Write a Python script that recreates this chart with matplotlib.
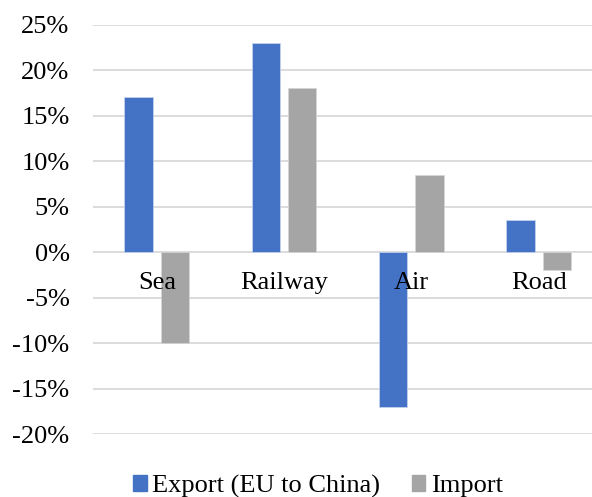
import numpy as np
import matplotlib
matplotlib.use("Agg")
import matplotlib.pyplot as plt
from matplotlib.patches import Patch

# Data
categories = ["Sea", "Railway", "Air", "Road"]
export_vals = [17, 23, -17, 3.5]
import_vals = [-10, 18, 8.5, -2]
series_names = ["Export (EU to China)", "Import"]
yticks = [-20, -15, -10, -5, 0, 5, 10, 15, 20, 25]

blue = "#4472C4"
gray = "#A5A5A5"

plt.rcParams["font.family"] = ["Liberation Serif", "DejaVu Serif"]
plt.rcParams["font.size"] = 19

fig = plt.figure(figsize=(5.92, 4.97), dpi=100)
ax = fig.add_axes([0.1574, 0.1262, 0.860, 0.8245])

x = np.arange(len(categories))
w = 0.223
off = 0.143
ax.bar(x - off, export_vals, w, color=blue, edgecolor="#c9d6ef", linewidth=0.5, zorder=2)
ax.bar(x + off, import_vals, w, color=gray, edgecolor="#d6d6d6", linewidth=0.5, zorder=2)

ax.set_xlim(-0.5, len(categories) - 0.5)
ax.set_ylim(-20, 25)
ax.set_yticks(yticks)
ax.set_yticklabels([f"{t}%" for t in yticks])
ax.tick_params(axis="y", length=0, pad=17)
ax.set_xticks([])
ax.grid(axis="y", color="#D9D9D9", linewidth=1.3, zorder=0)
ax.set_axisbelow(True)
for s in ax.spines.values():
    s.set_visible(False)

# category labels sit just under the zero line
for i, cat in enumerate(categories):
    ax.annotate(cat, (i, 0), xytext=(0, -14), textcoords="offset points",
                ha="center", va="top", fontsize=19, zorder=5)

handles = [Patch(color=blue), Patch(color=gray)]
fig.legend(handles, series_names, loc="center", bbox_to_anchor=(0.537, 0.022),
           ncol=2, frameon=False, fontsize=19, handlelength=0.52, handleheight=0.52,
           handletextpad=0.2, columnspacing=1.2, borderpad=0)

fig.savefig("out.png", dpi=100)
